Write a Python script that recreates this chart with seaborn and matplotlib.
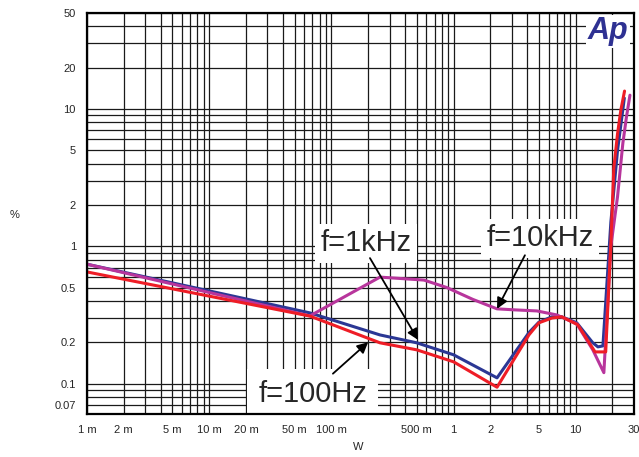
import matplotlib
matplotlib.use("Agg")
import matplotlib.pyplot as plt
from matplotlib.ticker import FixedLocator, LogLocator, NullFormatter
import numpy as np
import pandas as pd
import seaborn as sns

# THD+N (%) against output power (W)
blue_w = [0.001, 0.0668, 0.25, 0.50, 1.0, 2.27, 4.14, 5.0, 6.38, 7.7, 10.2, 13.8, 15.2, 16.7, 19.4, 22.0, 25.0]
blue_pct = [0.74, 0.327, 0.226, 0.198, 0.162, 0.110, 0.235, 0.28, 0.306, 0.306, 0.277, 0.198, 0.185, 0.188, 1.5, 5.0, 12.0]

magenta_w = [0.001, 0.0668, 0.25, 0.573, 0.883, 1.44, 2.27, 3.18, 4.81, 7.0, 10.2, 13.8, 17.0, 19.4, 22.0, 24.3, 26.0, 27.8]
magenta_pct = [0.74, 0.311, 0.596, 0.567, 0.50, 0.41, 0.35, 0.344, 0.338, 0.316, 0.272, 0.176, 0.12, 1.0, 2.3, 5.6, 8.7, 12.6]

red_w = [0.001, 0.0668, 0.25, 0.50, 1.0, 2.27, 4.14, 5.0, 6.38, 7.7, 10.4, 14.4, 16.7, 17.6, 19.4, 20.5, 22.0, 23.4, 25.1]
red_pct = [0.65, 0.31, 0.198, 0.176, 0.144, 0.094, 0.226, 0.277, 0.30, 0.306, 0.268, 0.17, 0.17, 0.17, 1.05, 3.7, 6.6, 9.8, 13.5]

x_ticks = [0.001, 0.002, 0.005, 0.01, 0.02, 0.05, 0.1, 0.5, 1, 2, 5, 10, 30]
x_labels = ["1 m", "2 m", "5 m", "10 m", "20 m", "50 m", "100 m", "500 m", "1", "2", "5", "10", "30"]
y_ticks = [50, 20, 10, 5, 2, 1, 0.5, 0.2, 0.1, 0.07]
y_labels = ["50", "20", "10", "5", "2", "1", "0.5", "0.2", "0.1", "0.07"]

df = pd.concat([
    pd.DataFrame({"W": blue_w, "pct": blue_pct, "curve": "blue"}),
    pd.DataFrame({"W": magenta_w, "pct": magenta_pct, "curve": "magenta"}),
    pd.DataFrame({"W": red_w, "pct": red_pct, "curve": "red"}),
])
colors = {"blue": "#2b3794", "magenta": "#b8359c", "red": "#ee1d26"}

sns.set_style("white")
plt.rcParams["font.family"] = ["Liberation Sans", "DejaVu Sans"]

fig = plt.figure(figsize=(6.39, 4.57), dpi=100)
ax = fig.add_axes([87 / 639, 1 - 414 / 457, 547 / 639, 401 / 457])

sns.lineplot(data=df, x="W", y="pct", hue="curve", hue_order=["blue", "magenta", "red"],
             palette=colors, linewidth=2.2, legend=False, ax=ax, zorder=5)

ax.set_xscale("log")
ax.set_yscale("log")
ax.set_xlim(0.001, 30)
ax.set_ylim(0.06, 50)

ax.xaxis.set_major_locator(FixedLocator(x_ticks))
ax.set_xticklabels(x_labels)
ax.xaxis.set_minor_locator(LogLocator(base=10, subs=np.arange(1, 10)))
ax.xaxis.set_minor_formatter(NullFormatter())
ax.yaxis.set_major_locator(FixedLocator(y_ticks))
ax.set_yticklabels(y_labels)
ax.yaxis.set_minor_locator(LogLocator(base=10, subs=np.arange(1, 10)))
ax.yaxis.set_minor_formatter(NullFormatter())

ax.grid(True, which="both", color="#1a1a1a", linewidth=0.9)
ax.set_axisbelow(True)
ax.tick_params(which="both", direction="in", length=4, width=0.8, color="black",
               labelsize=8, pad=8)
for s in ax.spines.values():
    s.set_color("black")
    s.set_linewidth(1.6)
    s.set_zorder(10)

ax.set_xlabel("")
ax.set_ylabel("")
fig.text(15 / 639, 1 - 215 / 457, "%", fontsize=8, ha="center", va="center")
fig.text(358 / 639, 1 - 447 / 457, "W", fontsize=8, ha="center", va="center")

box = dict(facecolor="white", edgecolor="none", pad=4)
ax.text(0.192, 1.05, "f=1kHz", fontsize=21, ha="center", va="center", bbox=box, zorder=6)
ax.text(5.09, 1.14, "f=10kHz", fontsize=21, ha="center", va="center", bbox=box, zorder=6)
ax.text(0.0706, 0.084, "f=100Hz", fontsize=21, ha="center", va="center",
        bbox=dict(facecolor="white", edgecolor="none", pad=8), zorder=6)

arrow = dict(arrowstyle="-|>", color="black", lw=1.3, mutation_scale=16, shrinkA=0, shrinkB=0)
ax.annotate("", xy=(0.512, 0.208), xytext=(0.207, 0.82), arrowprops=arrow, zorder=7)
ax.annotate("", xy=(2.27, 0.35), xytext=(3.84, 0.86), arrowprops=arrow, zorder=7)
ax.annotate("", xy=(0.2, 0.2), xytext=(0.103, 0.118), arrowprops=arrow, zorder=7)

ax.text(0.99, 0.955, "Ap", transform=ax.transAxes, fontsize=22, fontweight="bold",
        fontstyle="italic", color="#2e3192", ha="right", va="center",
        bbox=dict(facecolor="white", edgecolor="none", pad=1), zorder=8)

fig.savefig("out.png", dpi=100)
